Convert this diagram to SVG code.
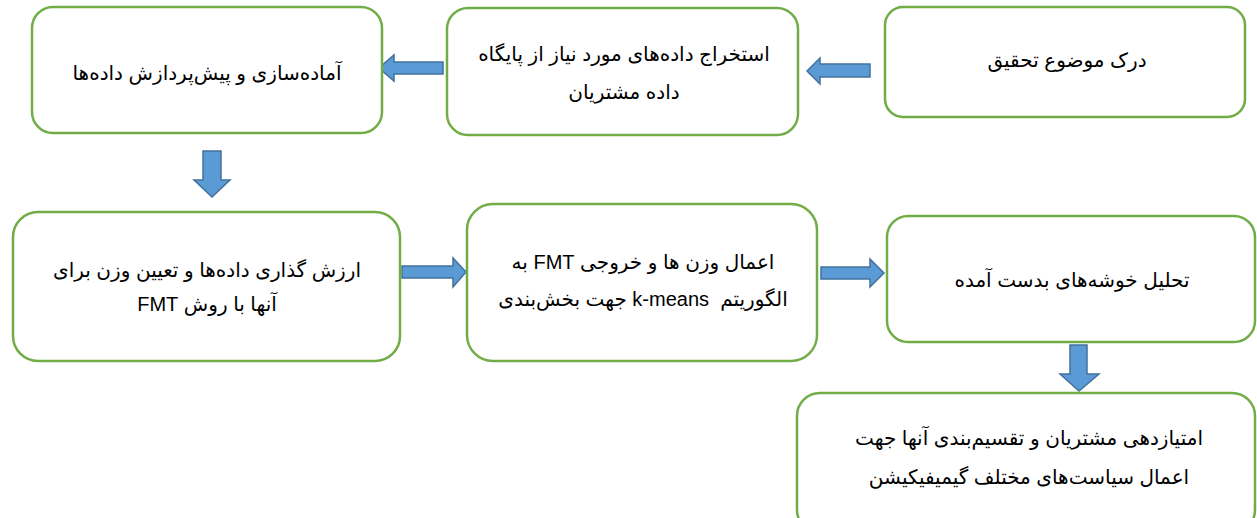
<svg xmlns="http://www.w3.org/2000/svg" width="1257" height="518" viewBox="0 0 1257 518">
<style>
.box{fill:#ffffff;stroke:#70AD47;stroke-width:2.5}
.arr{fill:#5B9BD5;stroke:#41719C;stroke-width:1.5;stroke-linejoin:miter}
.t{font-family:"Liberation Sans","DejaVu Sans",sans-serif;font-size:20px;fill:#000000;text-anchor:middle;direction:rtl}
</style>
<rect width="1257" height="518" fill="#ffffff"/>
<g id="connectors">
<path class="arr" d="M870,64 L820,64 L820,58 L807,71 L820,84 L820,77 L870,77 Z"/>
<path class="arr" d="M443,62 L394,62 L394,55 L379,68 L394,81 L394,74 L443,74 Z"/>
<path class="arr" d="M203,151 L221,151 L221,180 L230,180 L212,197 L194,180 L203,180 Z"/>
<path class="arr" d="M402,266 L453,266 L453,258 L466,272 L453,287 L453,278 L402,278 Z"/>
<path class="arr" d="M821,267 L870,267 L870,259 L884,273 L870,287 L870,279 L821,279 Z"/>
<path class="arr" d="M1070,345 L1087,345 L1087,374 L1099,374 L1079,391 L1060,374 L1070,374 Z"/>
</g>
<g id="node-research">
<rect class="box" x="885" y="7" width="360" height="110" rx="18" ry="18"/>
<text class="t" x="1067" y="67">درک موضوع تحقیق</text>
</g>
<g id="node-extract">
<rect class="box" x="447" y="8" width="351" height="127" rx="21" ry="21"/>
<text class="t" x="624" y="61">استخراج داده‌های مورد نیاز از پایگاه</text>
<text class="t" x="624" y="99">داده مشتریان</text>
</g>
<g id="node-prepare">
<rect class="box" x="32" y="7" width="350" height="126" rx="21" ry="21"/>
<text class="t" x="207" y="80">آماده‌سازی و پیش‌پردازش داده‌ها</text>
</g>
<g id="node-weight">
<rect class="box" x="13" y="212" width="387" height="149" rx="25" ry="25"/>
<text class="t" x="207" y="277">ارزش گذاری داده‌ها و تعیین وزن برای</text>
<text class="t" x="207" y="311">آنها با روش FMT</text>
</g>
<g id="node-kmeans">
<rect class="box" x="467" y="204" width="350" height="157" rx="26" ry="26"/>
<text class="t" x="643" y="269">اعمال وزن ها و خروجی FMT به</text>
<text class="t" x="643" y="306">الگوریتم&#160; k-means جهت بخش‌بندی</text>
</g>
<g id="node-analysis">
<rect class="box" x="887" y="216" width="368" height="126" rx="21" ry="21"/>
<text class="t" x="1072" y="287">تحلیل خوشه‌های بدست آمده</text>
</g>
<g id="node-scoring">
<rect class="box" x="797" y="393" width="458" height="140" rx="23" ry="23"/>
<text class="t" x="1029" y="445">امتیازدهی مشتریان و تقسیم‌بندی آنها جهت</text>
<text class="t" x="1029" y="484">اعمال سیاست‌های مختلف گیمیفیکیشن</text>
</g>
</svg>
